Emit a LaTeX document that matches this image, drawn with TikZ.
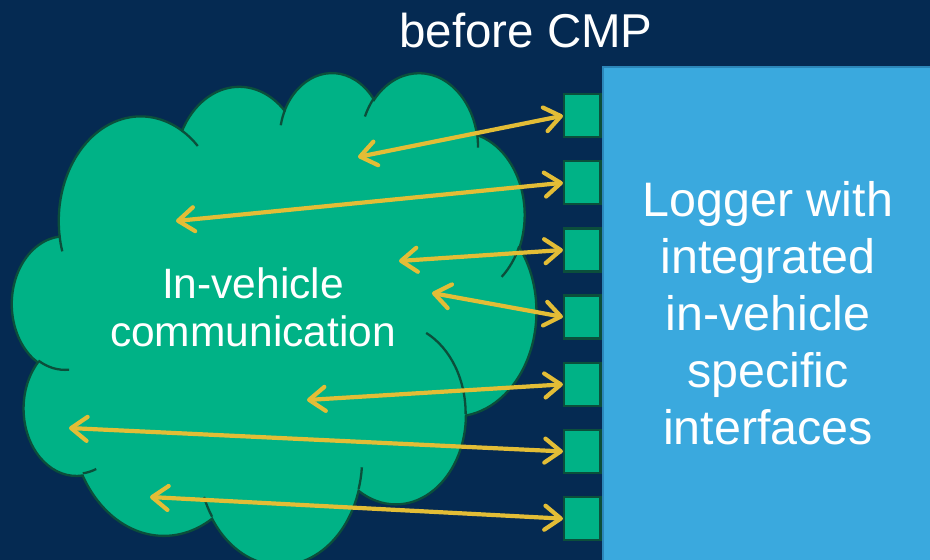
\documentclass[tikz,border=0pt]{standalone}
\usepackage{fontspec}
\setmainfont{Liberation Sans}
\usetikzlibrary{arrows.meta}
\definecolor{bgnavy}{HTML}{052A52}
\definecolor{cloudgreen}{HTML}{00B286}
\definecolor{cloudline}{HTML}{0B4F3B}
\definecolor{loggerblue}{HTML}{3AA9DE}
\definecolor{loggerline}{HTML}{2C86B9}
\definecolor{arrowgold}{HTML}{E3BD36}
\tikzset{
  cloudarc/.code n args={4}{%
    \pgfmathsetmacro\caS{#3}%
    \pgfmathsetmacro\caE{#3+#4}%
    \pgfmathsetmacro\caDs{atan2(#1*sin(\caS),#2*cos(\caS))-\caS}%
    \pgfmathsetmacro\caDs{\caDs-360*round(\caDs/360)}%
    \pgfmathsetmacro\caDe{atan2(#1*sin(\caE),#2*cos(\caE))-\caE}%
    \pgfmathsetmacro\caDe{\caDe-360*round(\caDe/360)}%
    \pgfmathsetmacro\caPS{\caS+\caDs}%
    \pgfmathsetmacro\caPE{\caE+\caDe}%
    \pgfkeysalso{/tikz/x radius=#1,/tikz/y radius=#2,/tikz/start angle=\caPS,/tikz/end angle=\caPE}%
  },
  cloudshape/.style={fill=cloudgreen, draw=cloudline, line width=2.3pt},
  cloudstub/.style={draw=cloudline, line width=2.3pt},
  port/.style={draw=cloudline, fill=cloudgreen, line width=2.5pt, inner sep=0pt, outer sep=0pt,
    minimum width=36.5pt, minimum height=43pt},
  link/.style={draw=arrowgold, line width=4.2pt,
    {Straight Barb[length=16pt,width=24pt,round]}-{Straight Barb[length=16pt,width=24pt,round]},
    shorten >=1pt},
  whitetext/.style={text=white, inner sep=0pt, align=center}
}
\begin{document}
\begin{tikzpicture}[x=1pt,y=-1pt]
\fill[bgnavy] (0,0) rectangle (930,560);
\useasboundingbox (0,0) rectangle (930,560);
\clip (0,0) rectangle (930,560);

% cloud
\begin{scope}[shift={(12.2,71.5)}, x=1.213pt, y=-1.139pt]
\path[cloudshape] (39.00,143.70)
  arc[cloudarc={67.53}{91.90}{-190.4875}{123.7805}]
  arc[cloudarc={53.33}{72.67}{-144.1024}{89.9452}]
  arc[cloudarc={43.65}{59.45}{-145.8079}{99.7230}]
  arc[cloudarc={48.57}{65.95}{-130.9861}{117.2417}]
  arc[cloudarc={53.33}{72.73}{-78.7089}{109.0269}]
  arc[cloudarc={67.75}{92.20}{-46.2673}{130.2690}]
  arc[cloudarc={57.85}{78.67}{0.6250}{114.0333}]
  arc[cloudarc={67.52}{92.15}{22.4516}{115.1726}]
  arc[cloudarc={77.20}{105.43}{66.2426}{75.7110}]
  arc[cloudarc={43.60}{59.18}{-274.9421}{146.7356}]
  arc[cloudarc={43.45}{59.45}{-246.8285}{152.5189}]
  -- cycle;
\path[cloudstub] (46.93,261.77) arc[cloudarc={43.45}{59.45}{86.7420}{26.4295}];
\path[cloudstub] (69.28,348.99) arc[cloudarc={43.60}{59.18}{73.6105}{11.4475}];
\path[cloudstub] (164.78,390.90) arc[cloudarc={67.52}{92.15}{137.6242}{14.0811}];
\path[cloudstub] (288.27,347.51) arc[cloudarc={67.52}{92.15}{6.4533}{15.9984}];
\path[cloudstub] (341.29,229.54) arc[cloudarc={57.85}{78.67}{-70.2924}{70.9174}];
\path[cloudstub] (417.98,153.54) arc[cloudarc={53.33}{72.73}{30.3180}{27.7515}];
\path[cloudstub] (383.24,54.26) arc[cloudarc={48.57}{65.95}{-13.7443}{14.8570}];
\path[cloudstub] (290.78,39.52) arc[cloudarc={48.57}{65.95}{-149.1815}{18.1959}];
\path[cloudstub] (221.41,47.20) arc[cloudarc={43.65}{59.45}{-163.4943}{17.6914}];
\path[cloudstub] (140.00,51.92) arc[cloudarc={67.53}{91.90}{-66.7070}{12.3194}];
\path[cloudstub] (41.27,157.89) arc[cloudarc={67.53}{91.90}{157.6544}{11.8582}];
\end{scope}

\node[whitetext, font=\fontsize{42.5}{48}\selectfont] (cloudtext) at (253,307.5) {In-vehicle\\communication};

% logger
\draw[fill=loggerblue, draw=loggerline, line width=2pt] (603,67) rectangle (940,570);
\node[whitetext, font=\fontsize{48.4}{57}\selectfont] (logger) at (768,313.5)
  {Logger with\\integrated\\in-vehicle\\specific\\interfaces};

% title
\node[whitetext, font=\fontsize{47.5}{57}\selectfont] (title) at (526,31) {before CMP};

% ports
\foreach \i/\y in {1/115.5,2/182.7,3/249.9,4/317.1,5/384.3,6/451.5,7/518.7}
  \node[port] (s\i) at (582.2,\y) {};

% arrow ends inside the cloud
\coordinate (c1) at (358,157);
\coordinate (c2) at (176,221);
\coordinate (c3) at (399,261);
\coordinate (c4) at (432,293);
\coordinate (c5) at (307,400);
\coordinate (c6) at (69,428);
\coordinate (c7) at (150,497);
\foreach \i in {1,...,7}
  \draw[link] (c\i) -- (s\i.west);
\end{tikzpicture}
\end{document}
